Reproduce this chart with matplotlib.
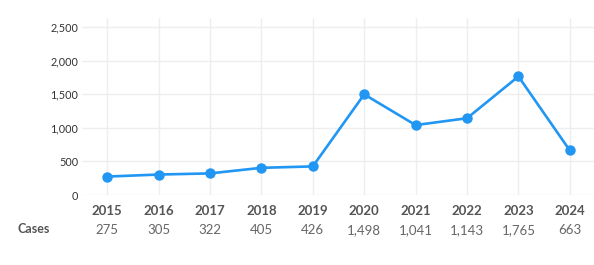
import matplotlib
matplotlib.use("Agg")
import matplotlib.pyplot as plt
from matplotlib.ticker import FuncFormatter

years = ["2015", "2016", "2017", "2018", "2019", "2020", "2021", "2022", "2023", "2024"]
cases = [275, 305, 322, 405, 426, 1498, 1041, 1143, 1765, 663]
y_ticks = [0, 500, 1000, 1500, 2000, 2500]

plt.rcParams["font.family"] = ["Lato", "DejaVu Sans"]

fig = plt.figure(figsize=(5.94, 2.65), dpi=100)
ax = fig.add_axes([0.138, 0.264, 0.862, 0.668])

x = list(range(len(years)))
ax.plot(x, cases, color="#2196F3", linewidth=1.9, marker="o", markersize=6.5,
        solid_joinstyle="round", zorder=3)

ax.set_xlim(-0.49, 9.47)
ax.set_ylim(0, 2634)
ax.set_yticks(y_ticks)
ax.yaxis.set_major_formatter(FuncFormatter(lambda v, p: f"{int(v):,}"))
ax.set_xticks(x)
ax.set_xticklabels(years, fontweight="bold", color="#555555", fontsize=9.5)
ax.tick_params(axis="x", length=0, pad=7)
ax.tick_params(axis="y", length=0, pad=2.5, labelsize=7.8, labelcolor="#333333")

ax.grid(True, color="#eeeeee", linewidth=1.0, zorder=0)
ax.set_axisbelow(True)
for s in ax.spines.values():
    s.set_visible(False)

# data table row below the axis
fig.text(18 / 594, 0.134, "Cases", fontsize=9, fontweight="bold", color="#555555",
         ha="left", va="center")
for xi, v in zip(x, cases):
    ax.annotate(f"{v:,}", xy=(xi, 0), xycoords=("data", "axes fraction"),
                xytext=(0, -35), textcoords="offset pixels",
                ha="center", va="center", fontsize=9.5, color="#666666")

fig.savefig("out.png", dpi=100)
